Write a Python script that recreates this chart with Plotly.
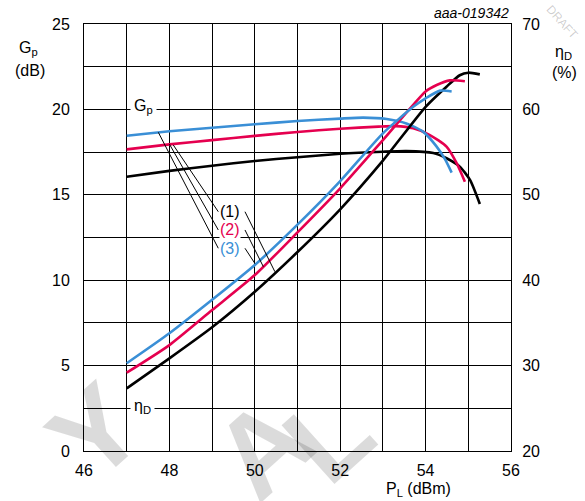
import plotly.graph_objects as go

# ---------------- data ----------------
# Power gain Gp (dB) versus load power PL (dBm)
gp1_x = [47, 48, 49, 50, 51, 52, 53, 53.55, 54.18, 54.49, 54.8, 55.04, 55.27]
gp1_y = [16.06, 16.4, 16.7, 16.98, 17.2, 17.4, 17.52, 17.56, 17.45, 17.14, 16.65, 15.87, 14.46]

gp2_x = [47, 48, 49, 50, 51, 52, 52.9, 53.3, 53.71, 54.1, 54.49, 54.73, 54.92]
gp2_y = [17.66, 17.95, 18.2, 18.45, 18.68, 18.87, 18.99, 19.02, 18.89, 18.5, 17.82, 16.84, 15.77]

gp3_x = [47, 48, 49, 50, 51, 52, 52.54, 53.09, 53.55, 53.94, 54.25, 54.45, 54.61]
gp3_y = [18.46, 18.72, 18.93, 19.13, 19.32, 19.46, 19.52, 19.44, 19.18, 18.7, 17.85, 17.1, 16.3]

# Drain efficiency etaD (%) versus load power PL (dBm)
eta1_x = [47, 48, 49, 50, 51, 52, 53, 54, 54.49, 54.8, 55.0, 55.27]
eta1_y = [27.34, 30.85, 34.49, 38.65, 43.3, 48.3, 54.0, 60.3, 62.66, 64.0, 64.3, 64.1]

eta2_x = [47, 48, 49, 50, 51, 52, 53, 54, 54.26, 54.57, 54.92]
eta2_y = [29.17, 32.4, 36.5, 40.6, 45.6, 50.76, 56.4, 62.1, 62.86, 63.4, 63.3]

eta3_x = [47, 48, 49, 50, 51, 52, 53, 53.71, 54.0, 54.34, 54.61]
eta3_y = [30.27, 33.78, 37.7, 41.78, 46.5, 51.6, 57.2, 60.3, 61.3, 62.2, 62.1]

x_ticks = [46, 47, 48, 49, 50, 51, 52, 53, 54, 55, 56]
x_labels = ["46", "", "48", "", "50", "", "52", "", "54", "", "56"]
y_ticks = [0, 2.5, 5, 7.5, 10, 12.5, 15, 17.5, 20, 22.5, 25]
y_labels = ["0", "", "5", "", "10", "", "15", "", "20", "", "25"]
y2_ticks = [20, 30, 40, 50, 60, 70]

BLACK = "#000000"
PINK = "#e5004f"
BLUE = "#3a8fd6"
FONT = "Arial, Liberation Sans, sans-serif"

fig = go.Figure()

W, H = 427.0, 427.0
def px(x):
    return (x - 84) / W
def py(y):
    return (451 - y) / H

series = [
    (eta1_x, eta1_y, BLACK, "y2"),
    (eta2_x, eta2_y, PINK, "y2"),
    (eta3_x, eta3_y, BLUE, "y2"),
    (gp1_x, gp1_y, BLACK, "y"),
    (gp2_x, gp2_y, PINK, "y"),
    (gp3_x, gp3_y, BLUE, "y"),
]
for xs, ys, c, ax in series:
    fig.add_trace(go.Scatter(x=xs, y=ys, mode="lines", yaxis=ax,
                             line=dict(color=c, width=2.6, shape="spline", smoothing=0.6),
                             hoverinfo="skip", showlegend=False))

# leader lines (data coordinates on the Gp axis)
leaders = [
    ((47.74, 18.66), (49.145, 11.87)),
    ((48.00, 17.97), (49.145, 12.94)),
    ((48.09, 17.92), (49.145, 14.01)),
    ((49.77, 14.01), (50.47, 10.50)),
    ((49.77, 12.94), (50.20, 10.79)),
    ((49.77, 11.87), (50.00, 10.99)),
]
shapes = []
for (x0, y0), (x1, y1) in leaders:
    shapes.append(dict(type="line", xref="x", yref="y", x0=x0, y0=y0, x1=x1, y1=y1,
                       line=dict(color=BLACK, width=1)))

C = dict(xanchor="center", yanchor="middle", showarrow=False)

# watermark (translucent text)
wm = dict(C, xref="paper", yref="paper",
          font=dict(family=FONT, size=115, color="rgba(0,0,0,0.14)", weight="bold"),
          textangle=-42)
ann = []
for t, x, y in [("Y", 95, 432), ("A", 262, 448), ("L", 328, 436)]:
    ann.append(dict(wm, text=t, x=px(x), y=py(y)))
ann.append(dict(C, xref="paper", yref="paper", text="DRAFT",
                x=px(562), y=py(22), textangle=48,
                font=dict(family=FONT, size=12, color="rgba(0,0,0,0.2)")))

lab = dict(C, font=dict(family=FONT, size=16, color=BLACK))
ann += [
    dict(lab, xref="x", yref="y", x=47.39, y=20.0, text="G<sub>p</sub>",
         bgcolor="white", borderpad=3, yshift=3),
    dict(lab, xref="x", yref="y", x=47.37, y=2.5, text="η<sub>D</sub>",
         bgcolor="white", borderpad=3, yshift=2),
    dict(lab, xref="x", yref="y", x=49.42, y=14.01, text="(1)", bgcolor="white", borderpad=0),
    dict(lab, xref="x", yref="y", x=49.42, y=12.94, text="(2)", bgcolor="white", borderpad=0,
         font=dict(family=FONT, size=16, color=PINK)),
    dict(lab, xref="x", yref="y", x=49.42, y=11.87, text="(3)", bgcolor="white", borderpad=0,
         font=dict(family=FONT, size=16, color=BLUE)),
    dict(lab, xref="paper", yref="paper", x=px(28), y=py(49), text="G<sub>p</sub>"),
    dict(lab, xref="paper", yref="paper", x=px(30), y=py(70), text="(dB)"),
    dict(lab, xref="paper", yref="paper", x=px(563), y=py(53), text="η<sub>D</sub>"),
    dict(lab, xref="paper", yref="paper", x=px(564), y=py(72), text="(%)"),
    dict(lab, xref="paper", yref="paper", x=px(418), y=py(489), text="P<sub>L</sub> (dBm)"),
    dict(showarrow=False, xref="paper", yref="paper", x=px(511), y=py(13),
         xanchor="right", yanchor="middle", text="<i>aaa-019342</i>",
         font=dict(family=FONT, size=14, color=BLACK)),
]

axis_common = dict(showline=True, linecolor=BLACK, linewidth=1, zeroline=False,
                   tickfont=dict(family=FONT, size=16, color=BLACK), ticks="")

fig.update_layout(
    width=585, height=501,
    margin=dict(l=84, r=74, t=24, b=50),
    paper_bgcolor="white", plot_bgcolor="white",
    xaxis=dict(axis_common, range=[46, 56], tickmode="array", tickvals=x_ticks,
               ticktext=x_labels, showgrid=True, gridcolor=BLACK, gridwidth=1,
               mirror=True, ticklabelstandoff=5),
    yaxis=dict(axis_common, range=[0, 25], tickmode="array", tickvals=y_ticks,
               ticktext=y_labels, showgrid=True, gridcolor=BLACK, gridwidth=1,
               mirror=True, ticklabelstandoff=10),
    yaxis2=dict(axis_common, range=[20, 70], tickmode="array", tickvals=y2_ticks,
                overlaying="y", side="right", showgrid=False, ticklabelstandoff=7),
    shapes=shapes,
    annotations=ann,
    showlegend=False,
)

fig.write_html("out.html", config={"displayModeBar": False},
               post_script="document.body.style.margin='0';")
